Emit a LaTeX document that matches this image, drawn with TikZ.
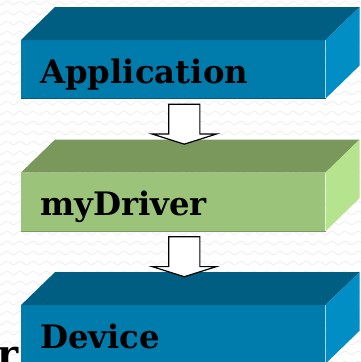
\documentclass[tikz,border=0pt]{standalone}
\usepackage{xcolor}
\usepackage{fontspec}
\newfontfamily\slabfont{DejaVu Serif}
\usetikzlibrary{shapes.arrows, positioning, calc, decorations.pathmorphing}
\definecolor{blueFront}{RGB}{0,124,172}
\definecolor{blueTop}{RGB}{0,94,130}
\definecolor{blueSide}{RGB}{0,142,196}
\definecolor{greenFront}{RGB}{155,196,122}
\definecolor{greenTop}{RGB}{122,152,92}
\definecolor{greenSide}{RGB}{182,228,142}
\tikzset{
    slab/.style={rectangle, minimum width=76mm, minimum height=14.5mm, inner sep=0pt, inner xsep=4.75mm, text width=66.5mm, align=left, text height=10.75mm, text depth=3.75mm, font=\slabfont\fontsize{23}{28}\selectfont\bfseries},
    hollow/.style={single arrow, draw=black, fill=white, line width=0.3mm, shape border rotate=270, inner ysep=0pt, inner xsep=3.75mm, minimum height=10mm, minimum width=15.75mm, single arrow head extend=4.1mm, single arrow tip angle=145},
    backdrop/.style={draw=black!6, line width=0.25mm, decorate, decoration={snake, segment length=3.25mm, amplitude=0.45mm}}
}

\begin{document}
\begin{tikzpicture}[x=0.25mm, y=-0.25mm, node distance=18.5mm]
    \useasboundingbox (0,0) rectangle (361,362);
    \clip (0,0) rectangle (361,362);

    % faint wavy paper
    \foreach \r in {3,13,...,363}
        \draw[backdrop] (-10,\r) -- (371,\r);

    % word poking out behind the bottom slab
    \node (rest) [anchor=base east, inner sep=0pt, font=\slabfont\fontsize{28.5}{32}\selectfont\bfseries] at (19,368) {r};

    \node (app) [slab, fill=blueFront, anchor=north west] at (21,40) {Application};
    \node (drv) [slab, fill=greenFront, below=of app] {myDriver};
    \node (dev) [slab, fill=blueFront, below=of drv] {Device};

    % top and side faces, darker bottom edge
    \foreach \s/\tone in {app/blue, drv/green, dev/blue}{
        \fill[\tone Top] (\s.north west) -- ++(34,-33) -- ($(\s.north east)+(34,-33)$) -- (\s.north east) -- cycle;
        \fill[\tone Side] (\s.north east) -- ++(34,-33) -- ($(\s.south east)+(34,-33)$) -- (\s.south east) -- cycle;
        \draw[\tone Top, line width=0.3mm] (\s.south west) -- (\s.south east);
    }

    \node (down1) [hollow, anchor=tail] at ($(app.south)+(11,5)$) {};
    \node (down2) [hollow, anchor=tail] at ($(drv.south)+(11,5)$) {};
\end{tikzpicture}
\end{document}
